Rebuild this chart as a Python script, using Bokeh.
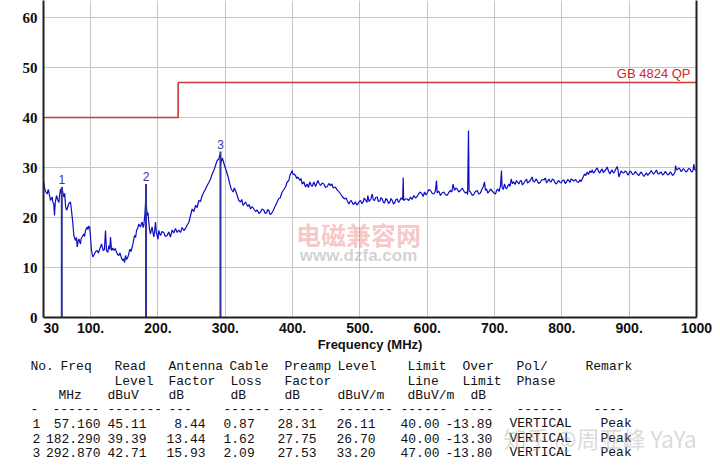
from bokeh.plotting import figure
from bokeh.models import Range1d, FixedTicker, LinearAxis, Label
from bokeh.embed import file_html
from bokeh.resources import INLINE
from bokeh.core.properties import value

# ---------------- data ----------------
freq_mhz = [
    30.0, 31.5, 33.0, 35.5, 37.0, 38.0, 40.4, 42.9, 44.0, 45.3, 46.3, 47.5, 49.3, 51.0, 52.8, 54.0,
    55.3, 56.5, 57.2, 58.5, 60.2, 61.5, 62.7, 64.0, 65.2, 67.6, 70.1, 71.6, 73.6, 75.1, 77.5, 79.0,
    80.1, 81.3, 82.5, 84.9, 86.0, 87.4, 89.9, 91.0, 92.4, 94.9, 96.0, 97.3, 98.8, 99.8, 101.3, 103.2,
    105.8, 107.5, 109.7, 111.5, 113.6, 116.2, 118.7, 120.5, 122.1, 123.6, 125.5, 127.1, 128.5, 129.5,
    131.1, 133.0, 134.5, 136.5, 138.4, 140.0, 141.9, 143.5, 145.4, 147.5, 149.3, 150.5, 151.8, 153.5,
    155.3, 156.8, 158.2, 160.0, 161.8, 163.5, 165.2, 166.8, 168.2, 170.0, 171.6, 174.1, 175.5, 176.6,
    178.0, 179.0, 180.5, 181.5, 182.3, 183.0, 184.0, 185.2, 186.4, 187.5, 188.9, 190.0, 191.4, 192.6,
    193.9, 195.2, 196.4, 197.6, 198.8, 200.0, 201.3, 202.5, 203.8, 206.0, 208.7, 211.0, 213.7, 216.0,
    218.6, 221.1, 223.5, 226.1, 228.5, 231.0, 233.5, 236.0, 238.5, 241.0, 243.4, 245.9, 248.4, 250.8,
    253.3, 255.8, 258.3, 260.7, 263.2, 265.7, 268.2, 270.7, 273.1, 275.6, 278.1, 280.6, 283.0, 285.5,
    288.0, 290.5, 292.0, 293.9, 295.5, 296.9, 298.9, 301.4, 304.3, 306.8, 308.8, 311.8, 313.5, 315.2,
    317.7, 320.2, 322.6, 324.5, 326.6, 330.1, 333.5, 335.5, 337.5, 340.0, 342.5, 345.0, 347.4, 350.0,
    352.4, 354.8, 357.3, 359.3, 361.3, 363.0, 364.7, 366.5, 368.2, 371.2, 374.6, 377.1, 379.5, 381.5,
    384.5, 387.1, 389.5, 392.0, 394.5, 396.0, 397.8, 399.4, 400.6, 401.9, 404.4, 406.0, 407.9, 410.8,
    412.5, 414.3, 416.8, 419.2, 421.7, 423.5, 425.7, 427.5, 429.1, 431.6, 434.1, 437.6, 439.5, 441.5,
    444.0, 446.5, 449.0, 451.4, 454.0, 456.4, 458.5, 460.3, 463.8, 465.5, 467.3, 470.2, 473.7, 477.2,
    479.5, 481.1, 483.6, 485.5, 487.1, 490.1, 493.5, 495.5, 497.0, 499.0, 501.0, 502.8, 504.9, 506.5,
    508.4, 510.5, 511.8, 513.5, 514.8, 516.5, 518.3, 520.0, 521.7, 523.5, 525.7, 527.5, 529.7, 531.5,
    533.1, 535.0, 536.6, 538.5, 540.6, 542.5, 544.5, 546.3, 548.0, 550.0, 551.5, 553.5, 555.4, 557.5,
    559.4, 561.0, 563.5, 564.3, 565.0, 567.8, 570.2, 572.7, 575.2, 577.5, 580.1, 582.5, 585.1, 587.5,
    590.0, 592.5, 594.0, 596.0, 598.0, 599.9, 602.5, 604.9, 607.5, 609.8, 612.0, 613.8, 614.8, 617.0,
    619.7, 622.0, 624.7, 627.0, 629.6, 632.0, 634.6, 636.5, 638.5, 640.5, 642.5, 644.5, 647.0, 649.4,
    652.0, 654.4, 656.5, 658.3, 660.0, 661.3, 662.2, 664.3, 667.0, 669.2, 671.5, 674.2, 676.5, 679.1,
    681.0, 683.1, 685.1, 686.5, 688.1, 690.0, 691.5, 694.0, 696.5, 699.0, 701.4, 703.0, 704.9, 706.9,
    708.9, 710.3, 711.2, 713.0, 714.8, 716.5, 717.8, 719.5, 721.2, 723.0, 724.7, 726.5, 728.7, 730.5,
    732.6, 734.5, 736.1, 738.0, 739.6, 741.5, 743.5, 745.5, 747.5, 749.0, 751.0, 753.5, 755.9, 757.5,
    759.4, 761.5, 763.3, 765.5, 768.3, 770.5, 773.3, 775.7, 777.2, 779.2, 780.7, 782.5, 784.1, 786.0,
    788.1, 790.0, 792.1, 793.8, 795.5, 797.2, 799.0, 801.0, 803.0, 805.0, 806.9, 808.5, 810.4, 812.0,
    813.9, 816.0, 817.8, 820.5, 822.8, 824.8, 826.7, 828.5, 830.2, 832.0, 833.7, 835.5, 837.6, 839.5,
    841.6, 843.5, 845.1, 846.8, 848.5, 850.5, 852.5, 854.5, 856.4, 858.0, 859.9, 861.5, 863.4, 865.5,
    867.3, 869.3, 871.3, 873.0, 874.8, 876.5, 878.2, 880.2, 882.2, 883.5, 884.7, 886.5, 888.1, 890.0,
    892.1, 894.0, 896.1, 898.0, 899.5, 901.2, 903.0, 905.0, 907.0, 909.0, 911.0, 912.7, 914.4, 916.0,
    917.9, 920.0, 921.8, 923.8, 925.8, 927.5, 929.2, 931.0, 932.7, 934.7, 936.7, 938.5, 940.6, 942.3,
    944.1, 946.0, 947.6, 949.5, 951.5, 953.5, 955.5, 957.2, 959.0, 960.7, 962.4, 964.4, 966.4, 968.0,
    968.9, 970.0, 971.3, 973.3, 975.3, 977.0, 978.8, 980.5, 982.2, 984.2, 986.2, 988.2, 990.2, 992.0,
    993.6, 995.0, 996.1, 997.3, 998.6, 1000.0,
]
level_dbuv = [
    27.4, 26.0, 25.2, 24.7, 25.6, 25.1, 23.4, 24.1, 23.0, 22.7, 20.4, 23.0, 24.4, 23.6, 23.0, 24.6,
    25.7, 24.8, 26.1, 25.2, 24.1, 24.8, 22.4, 21.5, 21.7, 22.8, 23.1, 21.4, 18.8, 16.4, 15.4, 16.0,
    14.1, 15.2, 15.7, 14.7, 15.8, 16.1, 16.7, 16.2, 17.4, 18.1, 17.6, 18.3, 17.9, 16.1, 13.4, 12.1,
    12.7, 13.2, 13.4, 12.9, 13.7, 14.7, 13.4, 13.6, 17.4, 13.4, 13.0, 14.4, 13.6, 16.1,
    13.4, 13.9, 13.4, 13.8, 13.1, 12.6, 12.4, 12.9, 12.1, 11.4, 11.7, 11.0, 12.4, 11.6,
    12.1, 12.8, 13.7, 13.2, 14.1, 15.2, 16.4, 16.0, 17.4, 17.9, 18.7, 18.1, 18.8, 19.1,
    18.0, 18.4, 20.5, 22.7, 26.7, 22.0, 20.4, 21.0, 19.1, 17.6, 16.7, 17.4, 18.1, 17.0,
    16.1, 17.4, 19.1, 17.0, 16.4, 15.6, 17.4, 16.8, 16.4, 17.2, 17.0, 16.2, 16.4, 17.1,
    16.1, 17.5, 16.9, 17.8, 17.0, 17.5, 17.0, 18.0, 17.4, 17.8, 18.5, 19.0, 20.4, 21.7,
    21.2, 22.4, 22.0, 23.4, 23.2, 24.4, 25.1, 25.7, 26.4, 27.0, 27.7, 28.7, 29.4, 30.4,
    31.4, 31.7, 32.7, 31.0, 31.9, 31.4, 30.4, 29.4, 28.1, 26.7, 25.7, 25.1, 25.9, 25.4,
    24.4, 23.4, 23.1, 23.6, 22.4, 23.1, 22.2, 22.6, 21.7, 22.2, 21.7, 21.2, 21.5, 20.8,
    21.1, 21.7, 21.5, 20.8, 20.9, 21.6, 21.4, 20.6, 20.7, 21.4, 22.4, 23.1, 23.8, 23.9,
    25.1, 25.6, 26.1, 27.1, 27.4, 28.4, 28.9, 29.4, 28.6, 28.7, 28.4, 27.8, 28.1, 27.4,
    27.8, 26.7, 27.1, 26.1, 26.7, 26.0, 27.1, 26.5, 26.2, 27.1, 26.2, 27.4, 26.8, 26.4,
    26.9, 26.7, 26.0, 26.2, 26.8, 26.4, 26.7, 25.9, 26.1, 25.6, 25.4, 24.9, 24.2, 23.7,
    23.9, 23.4, 22.7, 23.2, 23.4, 22.6, 23.1, 22.5, 22.7, 23.2, 23.4, 22.8, 23.1, 23.9,
    23.5, 23.0, 24.4, 23.2, 23.4, 23.8, 24.7, 23.5, 23.4, 24.0, 24.1, 23.2, 23.3, 24.0,
    23.7, 23.0, 22.9, 23.8, 23.5, 22.8, 23.1, 23.8, 23.4, 22.7, 22.9, 23.6, 23.7, 23.0,
    23.4, 23.9, 23.6, 28.0, 23.4, 23.7, 23.7, 23.4, 24.1, 23.6, 24.4, 23.9, 24.2, 24.8,
    25.1, 24.6, 24.2, 25.1, 24.5, 24.9, 25.6, 25.4, 24.8, 24.7, 25.2, 27.4, 24.9, 25.3,
    24.4, 24.9, 25.1, 24.6, 24.4, 25.0, 25.4, 25.1, 26.7, 25.4, 25.9, 25.7, 25.1, 25.4,
    25.9, 25.3, 24.9, 25.1, 24.6, 37.4, 25.3, 25.1, 24.4, 24.6, 25.2, 25.4, 24.7, 24.9,
    25.6, 26.1, 27.1, 25.4, 25.7, 24.9, 25.1, 25.7, 25.3, 24.9, 24.7, 25.4, 25.7, 25.2,
    26.4, 29.4, 26.1, 25.6, 26.7, 26.0, 25.7, 26.2, 26.7, 26.2, 27.7, 26.8, 27.1, 26.6,
    27.4, 27.0, 26.7, 27.3, 27.4, 26.5, 26.9, 27.3, 27.7, 26.9, 27.1, 27.5, 28.1, 27.2,
    27.1, 27.7, 27.4, 26.8, 27.1, 27.6, 27.5, 27.9, 26.9, 27.3, 27.7, 27.2, 27.1, 27.7,
    27.5, 26.9, 26.7, 27.2, 27.4, 27.0, 26.9, 27.4, 27.5, 26.8, 27.1, 27.6, 27.4, 27.0,
    27.7, 27.5, 27.3, 27.6, 27.1, 27.0, 27.5, 27.2, 27.7, 28.2, 28.7, 28.4, 29.1, 28.6,
    29.3, 29.0, 29.5, 28.9, 29.1, 29.6, 29.9, 29.2, 28.9, 29.4, 29.7, 29.0, 29.3, 29.6,
    30.1, 29.3, 28.7, 29.2, 29.5, 28.9, 29.1, 29.7, 30.2, 29.4, 28.1, 28.8, 29.3, 29.0,
    28.9, 29.3, 29.1, 28.5, 28.7, 29.3, 29.1, 28.6, 28.7, 29.2, 28.9, 28.6, 28.4, 28.8,
    29.1, 28.6, 28.2, 28.6, 28.9, 28.4, 28.7, 29.0, 29.4, 28.9, 28.7, 29.1, 29.5, 28.8,
    28.7, 29.0, 29.1, 28.5, 28.7, 29.2, 28.9, 28.5, 28.6, 29.1, 28.9, 28.4, 28.7, 29.0,
    30.4, 29.6, 29.5, 29.9, 29.7, 29.2, 29.4, 29.8, 29.5, 29.1, 29.3, 29.8, 29.7, 29.2,
    29.1, 29.5, 30.7, 29.6, 29.5, 29.4,
]

limit_freq = [30, 230, 230, 1000]
limit_level = [40, 40, 47, 47]
limit_name = "GB 4824 QP"

mk_no = ["1", "2", "3"]
mk_freq = [57.160, 182.290, 292.870]
mk_read = [45.11, 39.39, 42.71]
mk_ant = [8.44, 13.44, 15.93]
mk_cable = [0.87, 1.62, 2.09]
mk_preamp = [28.31, 27.75, 27.53]
mk_level = [26.11, 26.70, 33.20]
mk_limit = [40.00, 40.00, 47.00]
mk_over = [-13.89, -13.30, -13.80]
mk_pol = ["VERTICAL", "VERTICAL", "VERTICAL"]
mk_remark = ["Peak", "Peak", "Peak"]

x_ticks = [30, 100, 200, 300, 400, 500, 600, 700, 800, 900, 1000]
x_tick_labels = ["\u00a0\u00a0\u00a0\u00a030", "100.", "200.", "300.", "400.", "500.",
                 "600.", "700.", "800.", "900.", "1000"]
y_ticks = [0, 10, 20, 30, 40, 50, 60]

# ---------------- chart ----------------
p = figure(width=712, height=359, x_range=Range1d(30, 1000), y_range=Range1d(0, 63.4),
           output_backend="svg", toolbar_location=None,
           min_border_left=43, min_border_right=16, min_border_top=0, min_border_bottom=42)
p.outline_line_color = None

for ax in (p.xaxis[0], p.yaxis[0]):
    ax.axis_line_width = 2
    ax.axis_line_color = "#202020"
    ax.major_tick_line_color = None
    ax.minor_tick_line_color = None
    ax.major_label_text_color = "#111111"

p.xaxis.ticker = FixedTicker(ticks=x_ticks)
p.xaxis.major_label_overrides = dict(zip(x_ticks, x_tick_labels))
p.xaxis.major_label_text_font = "Liberation Sans"
p.xaxis.major_label_text_font_style = "bold"
p.xaxis.major_label_text_font_size = "14px"
p.xaxis.major_label_standoff = -4
p.xaxis.axis_label = "Frequency (MHz)"
p.xaxis.axis_label_text_font = "Liberation Sans"
p.xaxis.axis_label_text_font_style = "bold"
p.xaxis.axis_label_text_font_size = "13px"
p.xaxis.axis_label_text_color = "#111111"
p.xaxis.axis_label_standoff = -2

p.yaxis.ticker = FixedTicker(ticks=y_ticks)
p.yaxis.major_label_text_font = "Liberation Serif"
p.yaxis.major_label_text_font_style = "bold"
p.yaxis.major_label_text_font_size = "15px"
p.yaxis.major_label_standoff = 0

p.xgrid.ticker = FixedTicker(ticks=x_ticks[1:-1])
p.ygrid.ticker = FixedTicker(ticks=y_ticks[1:])
p.grid.grid_line_color = "#c6c6c6"
p.grid.grid_line_width = 1

right_axis = LinearAxis(ticker=FixedTicker(ticks=[]), axis_line_width=2, axis_line_color="#202020",
                        major_tick_line_color=None, minor_tick_line_color=None,
                        major_label_text_font_size="0px")
p.add_layout(right_axis, "right")

# watermark
p.add_layout(Label(x=498, y=16.8, text="电磁兼容网", text_align="center", text_baseline="middle",
                   text_font="Noto Sans CJK SC", text_font_style="bold", text_font_size="25px",
                   text_color="#e03c3c", text_alpha=0.3))
p.add_layout(Label(x=498, y=12.4, text="www.dzfa.com", text_align="center", text_baseline="middle",
                   text_font="Liberation Sans", text_font_style="bold", text_font_size="17px",
                   text_color="#9a9a9a", text_alpha=0.45))

p.line(limit_freq, limit_level, line_color="#c93a3a", line_width=1.6)
p.line(freq_mhz, level_dbuv, line_color="#0c0cc4", line_width=1.2)
p.segment(mk_freq, [0] * len(mk_freq), mk_freq, mk_level, line_color="#30309a", line_width=2)
p.text(mk_freq, mk_level, text=mk_no, text_align="center", text_baseline="bottom", y_offset=-3,
       text_font=value("Liberation Sans"), text_font_size="12px", text_color="#3535b0")
p.text([limit_freq[-1]], [limit_level[-1]], text=[limit_name], text_align="right",
       text_baseline="bottom", x_offset=-6, y_offset=-2,
       text_font=value("Liberation Sans"), text_font_size="13px", text_color="#d02828")

# ---------------- table (separate root, page pixel coordinates) ----------------
t = figure(width=712, height=115, x_range=Range1d(0, 712), y_range=Range1d(474, 359),
           output_backend="svg", toolbar_location=None, min_border=0,
           x_axis_location=None, y_axis_location=None)
t.grid.visible = False
t.outline_line_color = None

row_y = [366, 381, 395, 408, 423, 438, 452]

left_items = [
    ("No.", 30, 0), ("Freq", 60, 0), ("Read", 114, 0), ("Antenna", 168, 0), ("Cable", 229, 0),
    ("Preamp", 284, 0), ("Level", 337, 0), ("Limit", 407, 0), ("Over", 462, 0), ("Pol/", 516, 0),
    ("Remark", 585, 0),
    ("Level", 114, 1), ("Factor", 168, 1), ("Loss", 230, 1), ("Factor", 284, 1), ("Line", 407, 1),
    ("Limit", 462, 1), ("Phase", 516, 1),
    ("MHz", 58, 2), ("dBuV", 107, 2), ("dB", 168, 2), ("dB", 230, 2), ("dB", 284, 2),
    ("dBuV/m", 337, 2), ("dBuV/m", 407, 2), ("dB", 470, 2),
    ("-", 30, 3), ("------", 52, 3), ("-------", 107, 3), ("---", 168, 3), ("------", 223, 3),
    ("------", 277, 3), ("-------", 338, 3), ("------", 400, 3), ("----", 462, 3),
    ("------", 516, 3), ("----", 593, 3),
]
right_items = []
for i in range(len(mk_no)):
    r = 4 + i
    left_items += [
        (mk_no[i], 32, r), (f"{mk_read[i]:.2f}", 107, r), (f"{mk_cable[i]:.2f}", 223, r),
        (f"{mk_preamp[i]:.2f}", 277, r), (f"{mk_level[i]:.2f}", 336, r),
        (f"{mk_limit[i]:.2f}", 400, r), (f"{mk_over[i]:.2f}", 445, r), (mk_pol[i], 509, r),
        (mk_remark[i], 600, r),
    ]
    right_items += [(f"{mk_freq[i]:.3f}", 100, r), (f"{mk_ant[i]:.2f}", 205, r)]


def add_items(items, align):
    t.text([x for _, x, _ in items], [row_y[r] for _, _, r in items],
           text=[s for s, _, _ in items], text_align=align, text_baseline="middle",
           text_font=value("Liberation Mono"), text_font_size="13px", text_color="#111111")


add_items(left_items, "left")
add_items(right_items, "right")

t.add_layout(Label(x=503, y=437, text="知乎 @周亚峰 YaYa", text_align="left",
                   text_baseline="middle", text_font="Noto Sans CJK SC", text_font_size="23px",
                   text_color="#a0a0a0", text_alpha=0.4))

open("out.html", "w").write(file_html([p, t], INLINE))
